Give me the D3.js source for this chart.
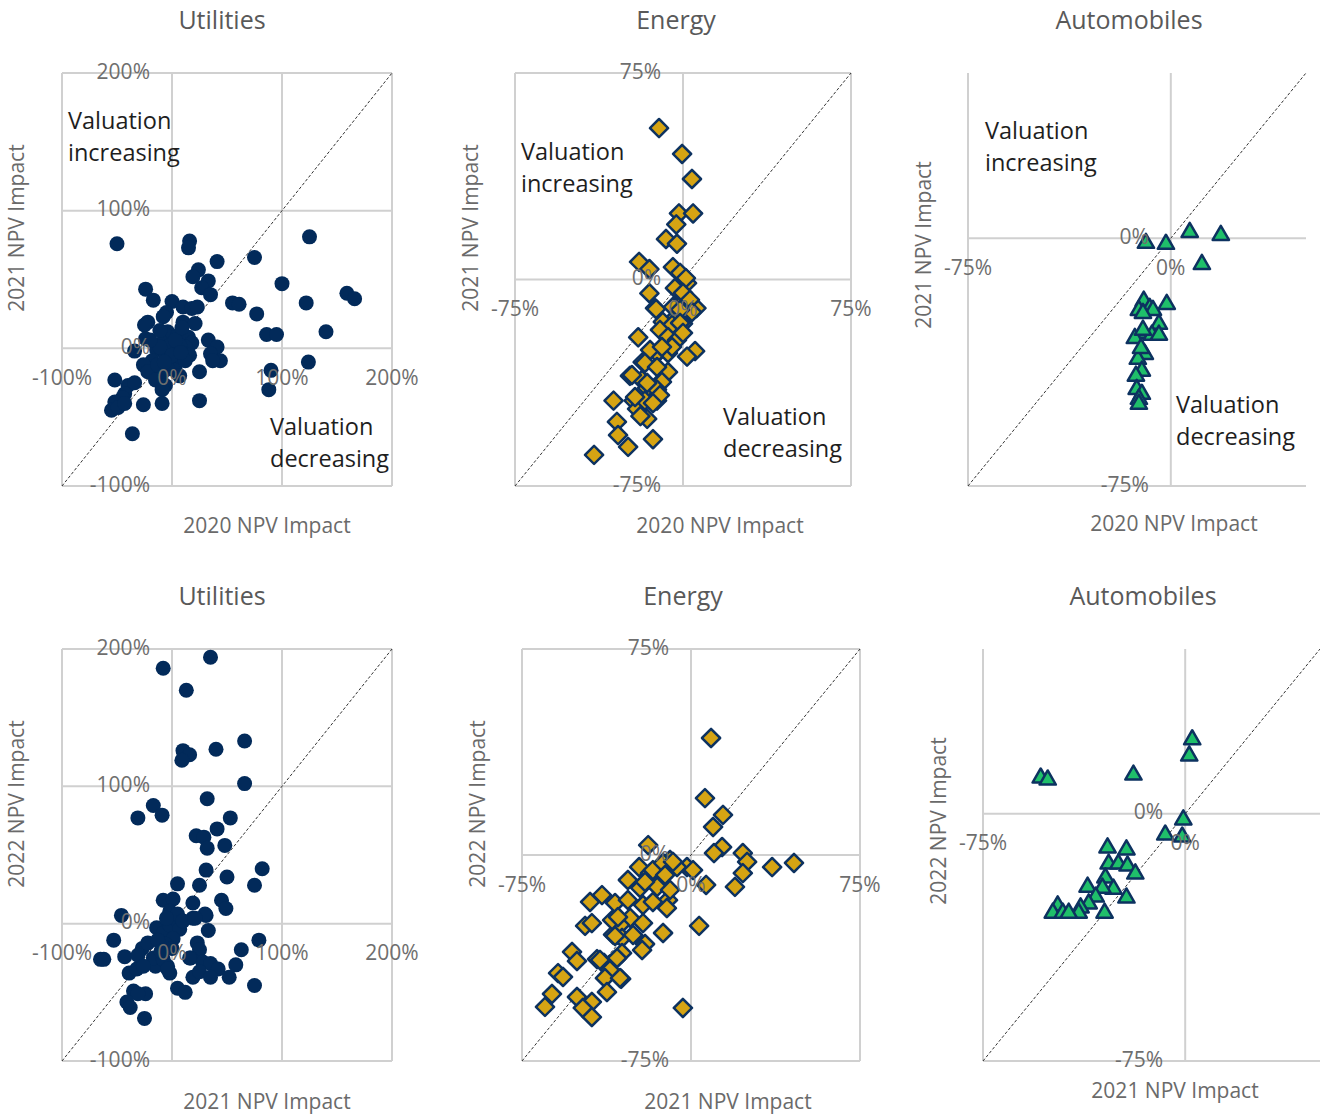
<!DOCTYPE html>
<html>
<head>
<meta charset="utf-8">
<script src="https://cdn.jsdelivr.net/npm/d3@7"></script>
<style>
  body { margin: 0; background: #fff; }
  svg { display: block; font-family: "Open Sans", sans-serif; }
</style>
</head>
<body>
<div id="chart"></div>
<script>
// NPV impact pairs, in percent: [previous year, next year]
const utilities20v21 = [
  [-50,76],[16,78],[15,73],[125,81],[75,66],[41,63],[24,57],[19,52],[33,49],[27,44],[35,39],[100,47],
  [159,40],[166,36],[122,33],[55,33],[61,32],[77,25],[140,12],[86,10],[95,10],[124,-10],[90,-16],[88,-30],
  [-24,43],[-17,35],[0,34],[-5,26],[-8,23],[10,30],[18,29],[23,30],[10,19],[21,18],[-22,19],[-25,17],
  [-24,7],[-34,-2],[-4,12],[5,9],[15,8],[18,4],[-9,4],[-14,-1],[-6,-4],[3,-1],[12,1],[16,-5],[-2,-9],
  [5,-9],[-18,-9],[-26,-12],[-22,-17],[-9,-18],[3,-16],[-15,-23],[-6,-27],[-9,-30],[33,6],[41,1],[35,-4],
  [44,-9],[37,-9],[25,-17],[25,-38],[-9,-40],[-26,-41],[-52,-23],[-40,-27],[-34,-25],[-43,-33],[-45,-36],
  [-52,-39],[-55,-45],[-49,-43],[-43,-40],[-36,-62],[7,2],[-2,2],[-11,1],[3,6],[12,-9],[-4,-15],[7,-20],
  [-13,-12],[-20,6],[9,15],[-11,13],[0,-5],[8,-3],[-7,-10]
];
const energy20v21 = [
  [-10.7,55],[-0.4,45.6],[4,36.5],[-1.8,24],[4.5,24],[-3,20],[-7.6,14.7],[-2.7,13],[-19.6,6.4],[-15,3.8],
  [-4.5,4.5],[0,1],[1.8,-1.3],[-15,-5],[-2.7,-3.8],[-12.5,-10.4],[0,-8.5],[6,-10.4],[-20,-21],[-4.5,-14.7],
  [0,-16],[5.4,-26],[1.8,-28],[-6.7,-21],[-10,-25.6],[-18,-30],[-11.6,-26.7],[-6.7,-33.6],[-23.7,-35],
  [-18.3,-36.5],[-9.8,-37],[-13.4,-39.8],[-16,-39.4],[-31,-44],[-22,-44],[-20.5,-47],[-17,-44],[-11.6,-44],
  [-16,-50.6],[-29.5,-51.7],[-29,-56.5],[-24.5,-60.8],[-13.4,-58],[-39.7,-63.7],[-19,-49.6],
  [-1.3,2.4],[1.3,0.5],[-3.6,-3.1],[0,-4.9],[3.1,-7.4],[4,-11.8],[-12,-10.7],[-4.5,-10],[-1.3,-11],
  [-9,-15.4],[-4.9,-16.5],[-1.3,-15.8],[-10.3,-18.3],[-6.7,-20.9],[-2.7,-22],[0,-19.4],[-6.7,-26.7],
  [-4.9,-24.5],[-14.7,-25.6],[-9.4,-24.5],[-17,-30.3],[-11.6,-31.8],[-22.8,-34.7],[-9.4,-37.2],
  [-11.6,-40],[-10.3,-42],[-16,-37.6],[-21.4,-42.7],[-13.4,-44.9]
];
const autos20v21 = [
  [-9.2,-1.2],[-1.8,-1.5],[7,2.1],[18.5,1.2],[11.5,-7.6],[-10,-18.7],[-1.5,-19.7],[-7.8,-20.9],[-6.6,-21.5],
  [-11.8,-21.5],[-10.3,-22.4],[-4.4,-25.7],[-10,-28.4],[-13.3,-30],[-7,-29],[-4.4,-29],[-9.6,-34.8],
  [-12.2,-36.3],[-10.7,-39.9],[-12.9,-41.4],[-12.6,-45.4],[-10.7,-46.9],[-11.8,-48.4],[-11.8,-49.9],
  [-10.3,-27.5],[-11,-33]
];
const utilities21v22 = [
  [35,194],[-8,186],[13,170],[66,133],[40,127],[10,126],[16,123],[9,119],[66,102],[32,91],[-17,86],[-31,77],
  [-9,79],[53,77],[41,69],[22,64],[29,63],[32,55],[48,57],[31,39],[50,34],[82,40],[75,28],[25,28],[5,29],
  [45,17],[49,11],[19,15],[-8,17],[1,18],[19,4],[31,6],[-46,6],[33,-5],[79,-12],[-53,-12],[23,-14],[25,-19],
  [63,-19],[-43,-24],[-65,-26],[-62,-26],[17,-25],[58,-30],[28,-28],[35,-29],[42,-33],[52,-39],[75,-45],
  [19,-39],[25,-35],[35,-39],[-39,-36],[-32,-33],[-2,-36],[-4,-31],[-15,-31],[5,-47],[12,-50],[-35,-49],
  [-24,-51],[-31,-51],[-41,-57],[-38,-61],[-25,-69],[-27,-18],[-31,-23],[-22,-14],[-17,-25],[-26,-31],
  [-14,-3],[-8,-7],[-2,-1],[5,2],[7,-4],[1,-11],[-6,-15],[-13,-12],[-2,9],[5,7],[-5,4],[10,2],[-8,-26],
  [-4,-33],[16,-25],[30,7],[21,4],[-10,-20],[0,-18]
];
const energy21v22 = [
  [8.9,42.6],[6.2,20.7],[14.2,14.6],[9.8,10.2],[13.8,2.9],[10.2,0.7],[23,0.7],[24.9,-2.5],[23,-6.6],
  [19.5,-11.6],[36,-4.4],[45.7,-2.9],[6.7,-10.9],[3.6,-25.8],[-3.6,-55.7],[-19,3.6],[-1.8,-4.4],[-9.3,-1.8],
  [-6.2,-4.4],[-12.4,-6.6],[-23,-4.4],[-18.2,-6.6],[-28,-9.1],[-22.6,-12],[-15,-11.6],[-10.2,-16.4],
  [-10.7,-19.3],[-39.5,-14.6],[-44.8,-17.1],[-33.7,-17.5],[-28,-16.4],[-21.3,-18.2],[-27,-22.9],[-21.3,-24.8],
  [-31.5,-25.5],[-47,-25.8],[-44,-24.8],[-34.6,-29],[-30.6,-30.2],[-12.4,-28.4],[-20.4,-32.4],[-21.7,-34.6],
  [-30.6,-35.7],[-33.7,-38.2],[-52.8,-35.3],[-50.6,-38.6],[-41.7,-37.9],[-38.6,-39.3],[-36,-41.9],[-59,-43],
  [-56.8,-44.4],[-38.2,-44.8],[-31,-45.1],[-37.3,-49.9],[-50.6,-51.7],[-61.7,-50.6],[-44,-53.5],[-48,-55.7],
  [-44,-59],[-64.8,-55.3],[-16.9,-5.5],[-12.4,-2.9],[-8,-2.5],[-11.5,-7.3],[0.9,-5.5],[-20.4,-9.8],
  [-9.3,-12.7],[-16.9,-17.1],[-35,-23.7],[-32.4,-22.6],[-25.7,-29.1],[-33.7,-29.5],[-40.4,-38.2],
  [-32.8,-37.5],[-31.5,-44.8]
];
const autos21v22 = [
  [2.6,22.8],[1.5,17.9],[-53.6,11.2],[-51,10.6],[-19.2,12.1],[-0.7,-1.5],[-7.4,-6.1],[-1.1,-6.7],[-28.8,-10],
  [-21.8,-10.6],[-28.4,-14.9],[-24.8,-14.9],[-21.4,-15.5],[-18.5,-17.9],[-29.6,-19.1],[-26.6,-22.5],
  [-30.7,-22.2],[-36.2,-21.9],[-21.8,-25.2],[-33.2,-24.9],[-35.8,-27],[-29.9,-29.8],[-38.8,-28.2],
  [-39.5,-29.8],[-47.3,-27.6],[-49.1,-29.8],[-45.4,-29.8],[-43.2,-29.8]
];

// axis ranges per sector
const utilitiesRange = [-100, 200], utilitiesStep = 100;
const energyRange = [-75, 75], energyStep = 75;
const autosRange = [-75, 50], autosStep = 75;

const navy = "#022a5a";
const styles = {
  circle: {fill: navy, stroke: "none", sw: 0},
  diamond: {fill: "#d6a413", stroke: "#0d3260", sw: 2.5},
  triangle: {fill: "#1fbf6a", stroke: "#0d3260", sw: 2.5}
};

const panels = [
  {title: "Utilities", data: utilities20v21, range: utilitiesRange, step: utilitiesStep, marker: "circle",
   box: [62, 392, 73, 486], titleAt: [222, 22], xt: ["2020 NPV Impact", 267, 527], yt: ["2021 NPV Impact", 18, 228],
   notes: [[68, 123, 155], [270, 429, 461]]},
  {title: "Energy", data: energy20v21, range: energyRange, step: energyStep, marker: "diamond",
   box: [515, 851, 73, 486], titleAt: [676, 22], xt: ["2020 NPV Impact", 720, 527], yt: ["2021 NPV Impact", 472, 228],
   notes: [[521, 154, 186], [723, 419, 451]]},
  {title: "Automobiles", data: autos20v21, range: autosRange, step: autosStep, marker: "triangle",
   box: [968, 1306, 73, 486], titleAt: [1129, 22], xt: ["2020 NPV Impact", 1174, 525], yt: ["2021 NPV Impact", 925, 245],
   notes: [[985, 133, 165], [1176, 407, 439]]},
  {title: "Utilities", data: utilities21v22, range: utilitiesRange, step: utilitiesStep, marker: "circle",
   box: [62, 392, 649, 1061], titleAt: [222, 598], xt: ["2021 NPV Impact", 267, 1103], yt: ["2022 NPV Impact", 18, 804],
   notes: []},
  {title: "Energy", data: energy21v22, range: energyRange, step: energyStep, marker: "diamond",
   box: [522, 860, 649, 1061], titleAt: [683, 598], xt: ["2021 NPV Impact", 728, 1103], yt: ["2022 NPV Impact", 479, 804],
   notes: []},
  {title: "Automobiles", data: autos21v22, range: autosRange, step: autosStep, marker: "triangle",
   box: [983, 1320, 649, 1061], titleAt: [1143, 598], xt: ["2021 NPV Impact", 1175, 1092], yt: ["2022 NPV Impact", 940, 821],
   notes: []}
];

const svg = d3.select("#chart").append("svg")
  .attr("width", 1320)
  .attr("height", 1115);

const symDiamond = d3.symbol().type(d3.symbolSquare).size(165)();
const symTriangle = d3.symbol().type(d3.symbolTriangle).size(115)();

panels.forEach(p => {
  const [x0, x1, y0, y1] = p.box;
  const x = d3.scaleLinear().domain(p.range).range([x0, x1]);
  const y = d3.scaleLinear().domain(p.range).range([y1, y0]);
  const ticks = d3.range(p.range[0], p.range[1] + 0.01, p.step);
  const g = svg.append("g");

  // gridlines (the 0 lines double as axes)
  g.selectAll(".vg").data(ticks).enter().append("line")
    .attr("x1", d => x(d)).attr("x2", d => x(d))
    .attr("y1", y0).attr("y2", y1)
    .attr("stroke", "#d0d0d0").attr("stroke-width", 2);
  g.selectAll(".hg").data(ticks).enter().append("line")
    .attr("y1", d => y(d)).attr("y2", d => y(d))
    .attr("x1", x0).attr("x2", x1)
    .attr("stroke", "#d0d0d0").attr("stroke-width", 2);

  // y = x reference line
  g.append("line")
    .attr("x1", x(p.range[0])).attr("y1", y(p.range[0]))
    .attr("x2", x(p.range[1])).attr("y2", y(p.range[1]))
    .attr("stroke", "#333").attr("stroke-width", 1)
    .attr("stroke-dasharray", "3,2");

  // markers
  const st = styles[p.marker];
  if (p.marker === "circle") {
    g.selectAll(".pt").data(p.data).enter().append("circle")
      .attr("cx", d => x(d[0])).attr("cy", d => y(d[1]))
      .attr("r", 7.5).attr("fill", st.fill);
  } else {
    g.selectAll(".pt").data(p.data).enter().append("path")
      .attr("d", p.marker === "diamond" ? symDiamond : symTriangle)
      .attr("transform", d => `translate(${x(d[0])},${y(d[1]) + (p.marker === "triangle" ? 1 : 0)})` + (p.marker === "diamond" ? " rotate(45)" : ""))
      .attr("fill", st.fill).attr("stroke", st.stroke).attr("stroke-width", st.sw)
      .attr("stroke-linejoin", "round");
  }

  // tick labels next to the 0 axes
  const zx = x(0), zy = y(0);
  g.selectAll(".xl").data(ticks).enter().append("text")
    .attr("x", d => x(d)).attr("y", zy + 31)
    .attr("text-anchor", "middle").attr("dominant-baseline", "middle")
    .attr("font-size", 21).attr("fill", "#6e6e6e")
    .text(d => d + "%");
  g.selectAll(".yl").data(ticks).enter().append("text")
    .attr("x", zx - 22).attr("y", d => y(d))
    .attr("text-anchor", "end").attr("dominant-baseline", "middle")
    .attr("font-size", 21).attr("fill", "#6e6e6e")
    .text(d => d + "%");

  // titles
  g.append("text").attr("x", p.titleAt[0]).attr("y", p.titleAt[1])
    .attr("text-anchor", "middle").attr("dominant-baseline", "middle")
    .attr("font-size", 25).attr("fill", "#595959").text(p.title);
  g.append("text").attr("x", p.xt[1]).attr("y", p.xt[2])
    .attr("text-anchor", "middle").attr("dominant-baseline", "middle")
    .attr("font-size", 21).attr("fill", "#6a6a6a").text(p.xt[0]);
  g.append("text")
    .attr("transform", `translate(${p.yt[1]},${p.yt[2]}) rotate(-90)`)
    .attr("text-anchor", "middle").attr("dominant-baseline", "middle")
    .attr("font-size", 21).attr("fill", "#6a6a6a").text(p.yt[0]);

  // quadrant notes
  p.notes.forEach((n, i) => {
    const words = i === 0 ? ["Valuation", "increasing"] : ["Valuation", "decreasing"];
    g.append("text").attr("x", n[0]).attr("y", n[1])
      .attr("dominant-baseline", "middle").attr("font-size", 23.5).attr("fill", "#1e1e1e").text(words[0]);
    g.append("text").attr("x", n[0]).attr("y", n[2])
      .attr("dominant-baseline", "middle").attr("font-size", 23.5).attr("fill", "#1e1e1e").text(words[1]);
  });
});
</script>
</body>
</html>
